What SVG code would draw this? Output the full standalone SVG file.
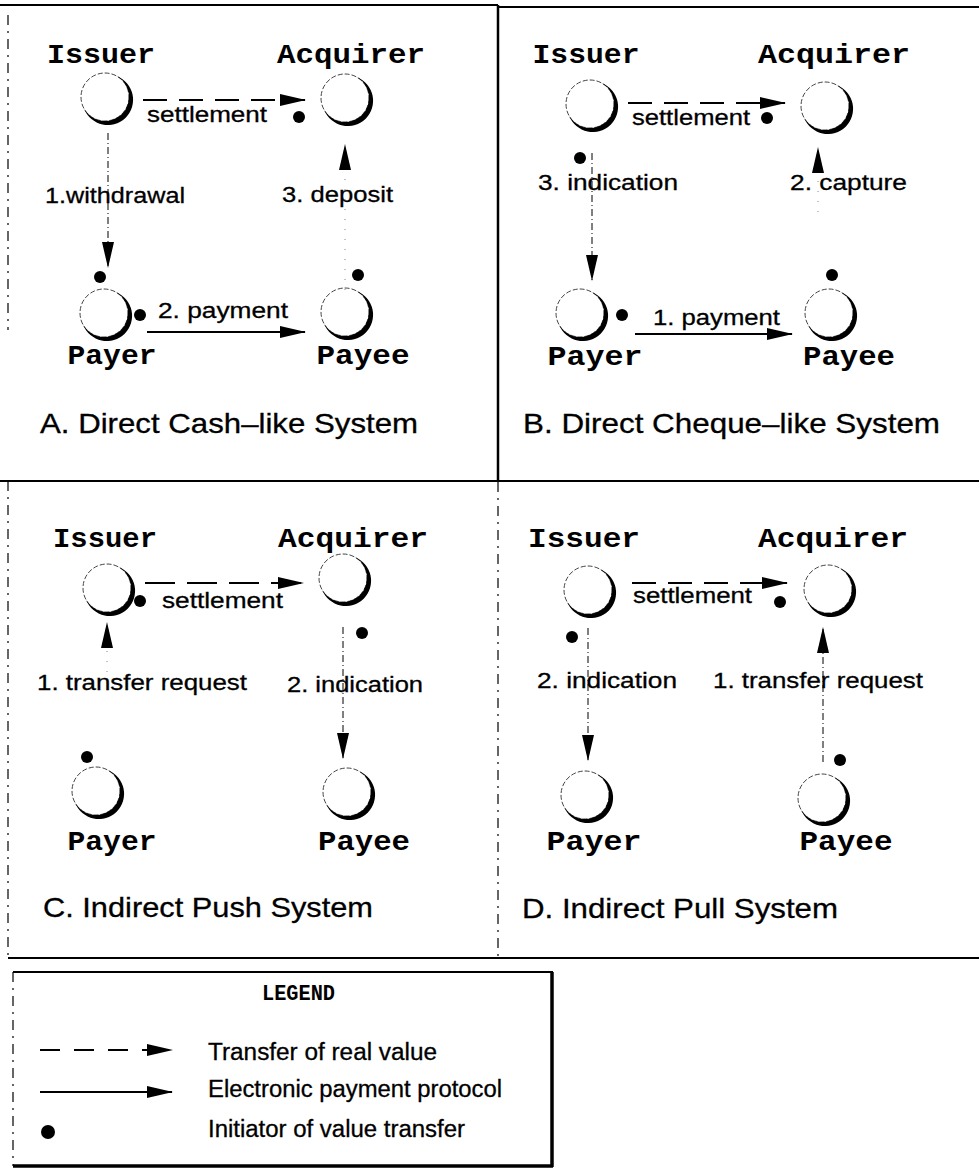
<svg xmlns="http://www.w3.org/2000/svg" xmlns:xlink="http://www.w3.org/1999/xlink" width="979" height="1171" viewBox="0 0 979 1171">
  <style>
    .name { font-family: "Liberation Mono", "Courier New", monospace; font-weight: bold; font-size: 27px; text-anchor: middle; fill: #000; }
    .lbl { font-family: "Liberation Sans", Arial, sans-serif; font-size: 22px; fill: #000; stroke: #000; stroke-width: 0.3; }
    .cap { font-family: "Liberation Sans", Arial, sans-serif; font-size: 28px; fill: #000; stroke: #000; stroke-width: 0.3; }
    .leg { font-family: "Liberation Sans", Arial, sans-serif; font-size: 23px; fill: #000; stroke: #000; stroke-width: 0.3; }
    .legtitle { font-family: "Liberation Mono", "Courier New", monospace; font-weight: bold; font-size: 22px; fill: #000; }
    .frame { stroke: #000; stroke-width: 2; fill: none; }
    .thickframe { stroke: #000; stroke-width: 3.5; fill: none; }
    .faintframe { stroke: #000; stroke-width: 1.2; fill: none; stroke-dasharray: 10 6 2 6; }
    .value { stroke: #000; stroke-width: 2; fill: none; stroke-dasharray: 24 12; marker-end: url(#head); }
    .protocol { stroke: #000; stroke-width: 2; fill: none; marker-end: url(#head); }
    .notice { stroke: #000; stroke-width: 1; fill: none; stroke-dasharray: 7 3 1 3; marker-end: url(#head); }
    .faint { stroke: #888; stroke-width: 1; fill: none; stroke-dasharray: 1 9; marker-end: url(#head); }
    .dot { fill: #000; }
  </style>
  <defs>
    <marker id="head" viewBox="0 0 26 12" refX="25" refY="6" markerWidth="26" markerHeight="12" markerUnits="userSpaceOnUse" orient="auto">
      <path d="M0,0 L26,6 L0,12 Z" fill="#000"/>
    </marker>
    <!-- party symbol: thin outline with a heavy shadow crescent at lower right -->
    <g id="party">
      <circle cx="0" cy="0" r="24" fill="none" stroke="#444" stroke-width="1" stroke-dasharray="5 2"/>
      <path d="M12,-20.78 A25.3,25.3 0 1 1 -20.78,12 A24,24 0 1 0 12,-20.78 Z" fill="#000"/>
    </g>
  </defs>

  <!-- panel frames -->
  <g id="frames">
    <line class="frame" x1="0" y1="5" x2="498" y2="5"/>
    <line class="frame" x1="498" y1="7" x2="979" y2="7"/>
    <line class="faintframe" x1="8" y1="15" x2="8" y2="330"/>
    <line class="frame" x1="498" y1="5" x2="498" y2="482" style="stroke-width:2.5"/>
    <line class="frame" x1="0" y1="481" x2="979" y2="481"/>
    <line class="faintframe" x1="8" y1="481" x2="8" y2="958"/>
    <line class="faintframe" x1="498" y1="482" x2="498" y2="958"/>
    <line class="frame" x1="8" y1="958" x2="979" y2="958"/>
  </g>

  <!-- A. Direct Cash-like System -->
  <g id="panel-a">
    <g id="a-issuer"><use xlink:href="#party" x="105" y="97"/><text class="name" x="101" y="63" textLength="108" lengthAdjust="spacingAndGlyphs">Issuer</text></g>
    <g id="a-acquirer"><use xlink:href="#party" x="345" y="98"/><text class="name" x="351" y="63" textLength="148" lengthAdjust="spacingAndGlyphs">Acquirer</text></g>
    <g id="a-payer"><use xlink:href="#party" x="104" y="313"/><text class="name" x="112" y="364" textLength="89" lengthAdjust="spacingAndGlyphs">Payer</text></g>
    <g id="a-payee"><use xlink:href="#party" x="345" y="312"/><text class="name" x="363" y="364" textLength="93" lengthAdjust="spacingAndGlyphs">Payee</text></g>
    <g id="a-connectors">
      <path class="value" d="M143,100 H305"/>
      <path class="notice" d="M108,133 V267"/>
      <path class="protocol" d="M147,332 H305"/>
      <path class="faint" d="M345,290 V145"/>
      <text class="lbl" x="147" y="122" textLength="120" lengthAdjust="spacingAndGlyphs">settlement</text>
      <text class="lbl" x="45" y="203" textLength="140" lengthAdjust="spacingAndGlyphs">1.withdrawal</text>
      <text class="lbl" x="282" y="202" textLength="111" lengthAdjust="spacingAndGlyphs">3. deposit</text>
      <text class="lbl" x="158" y="318" textLength="130" lengthAdjust="spacingAndGlyphs">2. payment</text>
    </g>
    <g id="a-initiators">
      <circle class="dot" cx="299" cy="117" r="6"/>
      <circle class="dot" cx="100" cy="277" r="6"/>
      <circle class="dot" cx="140" cy="315" r="6"/>
      <circle class="dot" cx="358" cy="275" r="6"/>
    </g>
    <text class="cap" x="40" y="433" textLength="378" lengthAdjust="spacingAndGlyphs">A. Direct Cash–like System</text>
  </g>

  <!-- B. Direct Cheque-like System -->
  <g id="panel-b">
    <g id="b-issuer"><use xlink:href="#party" x="590" y="104"/><text class="name" x="586" y="63" textLength="107" lengthAdjust="spacingAndGlyphs">Issuer</text></g>
    <g id="b-acquirer"><use xlink:href="#party" x="825" y="106"/><text class="name" x="834" y="63" textLength="152" lengthAdjust="spacingAndGlyphs">Acquirer</text></g>
    <g id="b-payer"><use xlink:href="#party" x="580" y="313"/><text class="name" x="595" y="365" textLength="95" lengthAdjust="spacingAndGlyphs">Payer</text></g>
    <g id="b-payee"><use xlink:href="#party" x="829" y="313"/><text class="name" x="849" y="365" textLength="92" lengthAdjust="spacingAndGlyphs">Payee</text></g>
    <g id="b-connectors">
      <path class="value" d="M628,103 H785"/>
      <path class="notice" d="M592,153 V280"/>
      <path class="faint" d="M818,212 V148"/>
      <path class="protocol" d="M635,334 H792"/>
      <text class="lbl" x="632" y="125" textLength="118" lengthAdjust="spacingAndGlyphs">settlement</text>
      <text class="lbl" x="538" y="190" textLength="140" lengthAdjust="spacingAndGlyphs">3. indication</text>
      <text class="lbl" x="790" y="190" textLength="117" lengthAdjust="spacingAndGlyphs">2. capture</text>
      <text class="lbl" x="653" y="325" textLength="127" lengthAdjust="spacingAndGlyphs">1. payment</text>
    </g>
    <g id="b-initiators">
      <circle class="dot" cx="767" cy="118" r="6"/>
      <circle class="dot" cx="580" cy="158" r="6"/>
      <circle class="dot" cx="622" cy="315" r="6"/>
      <circle class="dot" cx="832" cy="275" r="6"/>
    </g>
    <text class="cap" x="523" y="433" textLength="417" lengthAdjust="spacingAndGlyphs">B. Direct Cheque–like System</text>
  </g>

  <!-- C. Indirect Push System -->
  <g id="panel-c">
    <g id="c-issuer"><use xlink:href="#party" x="107" y="588"/><text class="name" x="105" y="547" textLength="104" lengthAdjust="spacingAndGlyphs">Issuer</text></g>
    <g id="c-acquirer"><use xlink:href="#party" x="343" y="578"/><text class="name" x="353" y="547" textLength="150" lengthAdjust="spacingAndGlyphs">Acquirer</text></g>
    <g id="c-payer"><use xlink:href="#party" x="96" y="791"/><text class="name" x="112" y="850" textLength="89" lengthAdjust="spacingAndGlyphs">Payer</text></g>
    <g id="c-payee"><use xlink:href="#party" x="347" y="792"/><text class="name" x="364" y="850" textLength="92" lengthAdjust="spacingAndGlyphs">Payee</text></g>
    <g id="c-connectors">
      <path class="value" d="M145,583 H303" style="stroke-dasharray:30 12"/>
      <path class="faint" d="M107,672 V623"/>
      <path class="notice" d="M343,627 V758"/>
      <text class="lbl" x="162" y="608" textLength="121" lengthAdjust="spacingAndGlyphs">settlement</text>
      <text class="lbl" x="37" y="690" textLength="210" lengthAdjust="spacingAndGlyphs">1. transfer request</text>
      <text class="lbl" x="287" y="692" textLength="136" lengthAdjust="spacingAndGlyphs">2. indication</text>
    </g>
    <g id="c-initiators">
      <circle class="dot" cx="140" cy="601" r="6"/>
      <circle class="dot" cx="362" cy="633" r="6"/>
      <circle class="dot" cx="87" cy="757" r="6"/>
    </g>
    <text class="cap" x="43" y="917" textLength="330" lengthAdjust="spacingAndGlyphs">C. Indirect Push System</text>
  </g>

  <!-- D. Indirect Pull System -->
  <g id="panel-d">
    <g id="d-issuer"><use xlink:href="#party" x="588" y="590"/><text class="name" x="584" y="547" textLength="112" lengthAdjust="spacingAndGlyphs">Issuer</text></g>
    <g id="d-acquirer"><use xlink:href="#party" x="828" y="589"/><text class="name" x="833" y="547" textLength="150" lengthAdjust="spacingAndGlyphs">Acquirer</text></g>
    <g id="d-payer"><use xlink:href="#party" x="585" y="795"/><text class="name" x="594" y="850" textLength="95" lengthAdjust="spacingAndGlyphs">Payer</text></g>
    <g id="d-payee"><use xlink:href="#party" x="822" y="798"/><text class="name" x="846" y="850" textLength="93" lengthAdjust="spacingAndGlyphs">Payee</text></g>
    <g id="d-connectors">
      <path class="value" d="M632,583 H787"/>
      <path class="notice" d="M588,628 V760"/>
      <path class="notice" d="M823,762 V628"/>
      <text class="lbl" x="633" y="603" textLength="119" lengthAdjust="spacingAndGlyphs">settlement</text>
      <text class="lbl" x="537" y="688" textLength="140" lengthAdjust="spacingAndGlyphs">2. indication</text>
      <text class="lbl" x="713" y="688" textLength="210" lengthAdjust="spacingAndGlyphs">1. transfer request</text>
    </g>
    <g id="d-initiators">
      <circle class="dot" cx="780" cy="602" r="6"/>
      <circle class="dot" cx="572" cy="637" r="6"/>
      <circle class="dot" cx="840" cy="760" r="6"/>
    </g>
    <text class="cap" x="522" y="918" textLength="316" lengthAdjust="spacingAndGlyphs">D. Indirect Pull System</text>
  </g>

  <!-- legend -->
  <g id="legend">
    <line class="frame" x1="13" y1="972" x2="553" y2="972"/>
    <line class="faintframe" x1="13" y1="972" x2="13" y2="1166"/>
    <line class="thickframe" x1="552" y1="972" x2="552" y2="1167"/>
    <line class="thickframe" x1="13" y1="1166" x2="553" y2="1166"/>
    <text class="legtitle" x="262" y="1000" textLength="73" lengthAdjust="spacingAndGlyphs">LEGEND</text>
    <path class="value" d="M40,1050 H172" style="stroke-dasharray:20 14"/>
    <text class="leg" x="208" y="1060" textLength="229" lengthAdjust="spacingAndGlyphs">Transfer of real value</text>
    <path class="protocol" d="M40,1092 H172"/>
    <text class="leg" x="208" y="1097" textLength="294" lengthAdjust="spacingAndGlyphs">Electronic payment protocol</text>
    <circle class="dot" cx="48" cy="1132" r="7"/>
    <text class="leg" x="208" y="1137" textLength="257" lengthAdjust="spacingAndGlyphs">Initiator of value transfer</text>
  </g>
</svg>
